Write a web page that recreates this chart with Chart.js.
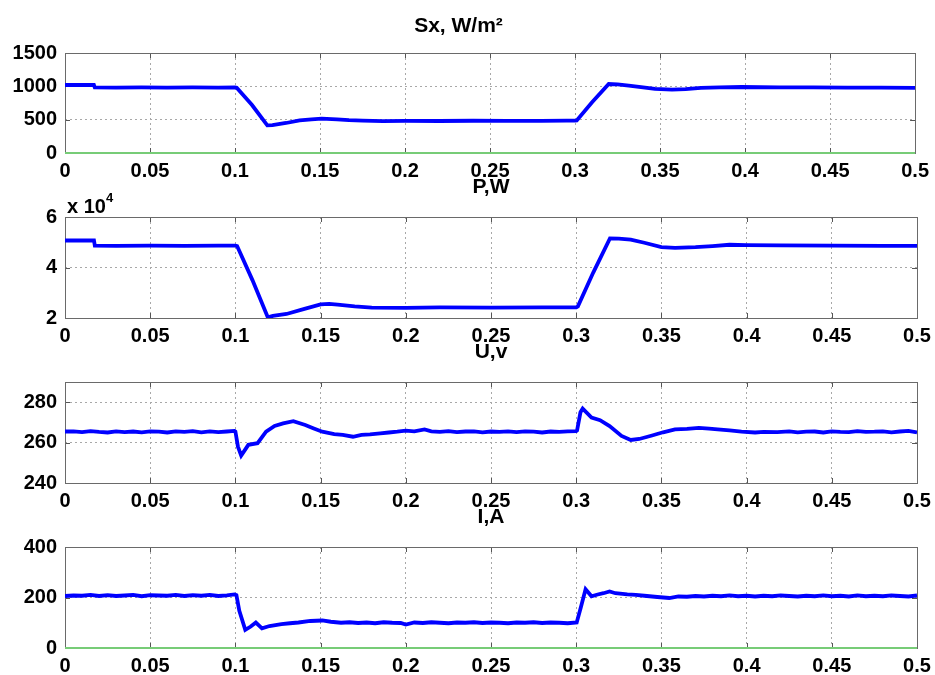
<!DOCTYPE html>
<html>
<head>
<meta charset="utf-8">
<script src="https://cdn.jsdelivr.net/npm/chart.js@4.4.1/dist/chart.umd.min.js"></script>
<style>
  html, body { margin: 0; padding: 0; background: #fff; width: 935px; height: 675px; overflow: hidden; position: relative; }
  canvas { position: absolute; left: 0; }
  #p-exp { position: absolute; left: 67px; top: 189px; font: bold 20px "Liberation Sans", Arial, sans-serif; color: #000; line-height: 24px; }
  #p-exp sup { font-size: 13px; position: relative; top: -3px; }
</style>
</head>
<body>
<canvas id="c1" width="935" height="179" style="top:0px"></canvas>
<canvas id="c2" width="982" height="180" style="top:164px"></canvas>
<canvas id="c3" width="982" height="180" style="top:329px"></canvas>
<canvas id="c4" width="982" height="180" style="top:494px"></canvas>
<div id="p-exp">x 10<sup>4</sup></div>
<script>
// ---------- data (time in s, value) ----------
const xTicks = [0, 0.05, 0.1, 0.15, 0.2, 0.25, 0.3, 0.35, 0.4, 0.45, 0.5];

const titles = ["Sx, W/m\u00B2", "P,W", "U,v", "I,A"];

const sxTicks = [0, 500, 1000, 1500];
const pTicks = [20000, 40000, 60000];
const uTicks = [240, 260, 280];
const iTicks = [0, 200, 400];

// Irradiance Sx, W/m^2
const sxData = [[0,1020],[0.017,1020],[0.0175,985],[0.03,982],[0.045,985],[0.06,980],[0.075,984],[0.09,982],[0.1,985],[0.101,980],
  [0.11,720],[0.119,415],[0.122,418],[0.13,450],[0.138,490],[0.145,505],[0.151,515],[0.16,505],[0.167,492],[0.175,485],
  [0.187,478],[0.2,482],[0.22,480],[0.24,484],[0.26,482],[0.28,483],[0.295,485],[0.3,486],[0.301,488],[0.31,760],
  [0.3198,1035],[0.325,1030],[0.3316,1012],[0.34,985],[0.347,962],[0.357,950],[0.365,958],[0.374,977],[0.385,985],[0.398,990],
  [0.42,985],[0.44,983],[0.46,980],[0.48,982],[0.5,978]];

// Power P, W
const pData = [[0,50700],[0.017,50700],[0.0175,48700],[0.03,48600],[0.05,48700],[0.07,48600],[0.09,48700],[0.1,48700],[0.101,48500],
  [0.11,35000],[0.119,20300],[0.122,20800],[0.13,21600],[0.14,23500],[0.15,25400],[0.155,25600],[0.16,25300],[0.17,24600],
  [0.18,24100],[0.2,24000],[0.22,24200],[0.25,24100],[0.28,24200],[0.3,24200],[0.301,24600],[0.31,38000],[0.3198,51500],
  [0.325,51400],[0.332,51000],[0.34,49800],[0.35,48100],[0.358,47800],[0.37,48100],[0.38,48500],[0.39,49000],[0.4,48900],
  [0.42,48800],[0.45,48700],[0.48,48600],[0.5,48600]];

// Voltage U, V
const uData = [[0,265.5],[0.005,265.6],[0.01,265.2],[0.015,265.7],[0.02,265.3],[0.025,265.0],[0.03,265.6],[0.035,265.2],
  [0.04,265.5],[0.045,265.1],[0.05,265.6],[0.055,265.4],[0.06,265.0],[0.065,265.6],[0.07,265.3],[0.075,265.7],[0.08,265.1],
  [0.085,265.6],[0.09,265.2],[0.095,265.5],[0.0995,265.8],[0.1,265.5],[0.1015,258.0],[0.1034,253.6],[0.1076,258.9],[0.113,259.7],
  [0.118,265.4],[0.123,268.2],[0.128,269.5],[0.134,270.6],[0.141,268.7],[0.146,267.0],[0.151,265.4],[0.158,264.2],[0.163,263.8],
  [0.169,262.9],[0.174,263.8],[0.179,264.1],[0.185,264.6],[0.19,265.0],[0.195,265.4],[0.2,265.9],[0.205,265.6],[0.211,266.5],
  [0.215,265.6],[0.22,265.3],[0.225,265.7],[0.23,265.2],[0.235,265.5],[0.24,265.6],[0.245,265.1],[0.25,265.5],[0.255,265.3],
  [0.26,265.6],[0.265,265.2],[0.27,265.6],[0.275,265.4],[0.28,265.0],[0.285,265.5],[0.29,265.3],[0.295,265.6],[0.3,265.7],
  [0.3005,266.0],[0.3025,275.0],[0.3038,276.8],[0.309,272.4],[0.314,271.1],[0.3196,268.2],[0.3266,263.3],[0.332,261.3],
  [0.337,261.8],[0.344,263.4],[0.351,265.1],[0.358,266.5],[0.365,266.8],[0.372,267.3],[0.378,266.9],[0.383,266.5],[0.39,266.0],
  [0.397,265.4],[0.405,265.0],[0.41,265.3],[0.418,265.2],[0.425,265.6],[0.43,265.1],[0.435,265.4],[0.44,265.5],[0.445,265.0],
  [0.45,265.6],[0.455,265.3],[0.46,265.2],[0.465,265.7],[0.47,265.3],[0.475,265.4],[0.48,265.6],[0.485,265.1],[0.49,265.5],
  [0.495,265.8],[0.5,265.0]];

// Current I, A
const iData = [[0,206],[0.005,208],[0.01,207],[0.015,210],[0.02,206],[0.025,209],[0.03,206],[0.035,208],[0.04,210],[0.045,205],
  [0.05,209],[0.055,208],[0.06,207],[0.065,210],[0.07,206],[0.075,209],[0.08,207],[0.085,210],[0.09,206],[0.095,208],[0.0995,212],
  [0.1006,209],[0.1023,147],[0.1058,72],[0.109,85],[0.112,101],[0.1156,78],[0.12,87],[0.127,95],[0.132,98],[0.137,101],[0.144,107],
  [0.151,109],[0.156,104],[0.162,100],[0.167,102],[0.172,99],[0.177,101],[0.182,98],[0.187,102],[0.192,100],[0.197,99],[0.2,93],
  [0.205,101],[0.21,99],[0.215,102],[0.22,100],[0.225,98],[0.23,101],[0.235,100],[0.24,102],[0.245,99],[0.25,101],[0.255,100],
  [0.26,98],[0.265,101],[0.27,100],[0.275,102],[0.28,99],[0.285,101],[0.29,100],[0.295,98],[0.3003,101],[0.3027,160],[0.3055,233],
  [0.309,205],[0.3126,212],[0.316,217],[0.3196,224],[0.323,217],[0.33,212],[0.335,210],[0.34,207],[0.3476,202],[0.3546,198],
  [0.36,204],[0.365,203],[0.37,206],[0.375,204],[0.38,207],[0.385,205],[0.39,208],[0.395,205],[0.4,207],[0.405,204],[0.41,207],
  [0.415,205],[0.42,208],[0.425,206],[0.43,204],[0.435,207],[0.44,205],[0.445,208],[0.45,205],[0.455,207],[0.46,204],[0.465,208],
  [0.47,205],[0.475,207],[0.48,205],[0.485,208],[0.49,206],[0.495,204],[0.5,208]];

// zero reference signal (green) shown in panels 1 and 4
const zeroData = [[0,0],[0.5,0]];

// ---------- drawing ----------
const FONT = '"Liberation Sans", Arial, sans-serif';
const toXY = arr => arr.map(p => ({x: p[0], y: p[1]}));

const boxPlugin = {
  id: 'matlabBox',
  beforeDatasetsDraw(chart) {
    const {ctx, chartArea: a, scales} = chart;
    ctx.save();
    ctx.strokeStyle = '#555';
    ctx.lineWidth = 1;
    const tl = 5;
    ctx.beginPath();
    scales.x.ticks.forEach(t => {
      const px = Math.round(scales.x.getPixelForValue(t.value)) + 0.5;
      ctx.moveTo(px, a.bottom); ctx.lineTo(px, a.bottom - tl);
      ctx.moveTo(px, a.top); ctx.lineTo(px, a.top + tl);
    });
    scales.y.ticks.forEach(t => {
      const py = Math.round(scales.y.getPixelForValue(t.value)) + 0.5;
      ctx.moveTo(a.left, py); ctx.lineTo(a.left + tl, py);
      ctx.moveTo(a.right, py); ctx.lineTo(a.right - tl, py);
    });
    ctx.stroke();
    ctx.strokeStyle = '#6a6a6a';
    ctx.strokeRect(Math.round(a.left) + 0.5, Math.round(a.top) + 0.5,
                   Math.round(a.right - a.left), Math.round(a.bottom - a.top));
    ctx.restore();
  }
};

// centerTitleOnPlot: true -> title centred over the plot box (uses an empty right spacer axis)
function makeChart(id, title, data, yMin, yMax, yTicks, fmt, showZero, centerTitleOnPlot, titleTop) {
  const datasets = [{
    data: toXY(data),
    borderColor: '#0000ff',
    borderWidth: 3.8,
    pointRadius: 0,
    tension: 0,
    order: 2
  }];
  if (showZero) {
    datasets.push({
      data: toXY(zeroData),
      borderColor: '#77cc77',
      borderWidth: 2,
      pointRadius: 0,
      clip: 4,
      order: 1
    });
  }
  const scales = {
    x: {
      type: 'linear',
      min: 0, max: 0.5,
      afterBuildTicks: s => { s.ticks = xTicks.map(v => ({value: v})); },
      afterFit: s => { s.height = 26; },
      grid: {
        drawTicks: false,
        color: c => (c.tick && (c.tick.value === 0 || c.tick.value === 0.5)) ? 'rgba(0,0,0,0)' : '#a8a8a8',
        lineWidth: 1
      },
      border: { display: false, dash: [2, 3] },
      ticks: {
        autoSkip: false, maxRotation: 0, padding: 6, color: '#000',
        font: { family: FONT, size: 20, weight: 'bold' },
        callback: v => String(+v.toFixed(2))
      }
    },
    y: {
      type: 'linear',
      position: 'left',
      min: yMin, max: yMax,
      afterBuildTicks: s => { s.ticks = yTicks.map(v => ({value: v})); },
      afterFit: s => { s.width = 65; },
      grid: {
        drawTicks: false,
        color: c => (c.tick && (c.tick.value === yMin || c.tick.value === yMax)) ? 'rgba(0,0,0,0)' : '#a8a8a8',
        lineWidth: 1
      },
      border: { display: false, dash: [2, 3] },
      ticks: {
        padding: 8, color: '#000',
        font: { family: FONT, size: 20, weight: 'bold' },
        callback: fmt
      }
    }
  };
  if (centerTitleOnPlot) {
    scales.ySpacer = {
      type: 'linear', position: 'right', min: 0, max: 1,
      grid: { display: false, drawTicks: false },
      border: { display: false },
      ticks: { display: false },
      afterFit: s => { s.width = 65; }
    };
  }
  return new Chart(document.getElementById(id), {
    type: 'line',
    data: { datasets },
    plugins: [boxPlugin],
    options: {
      responsive: false,
      animation: false,
      devicePixelRatio: 1,
      layout: { padding: { left: 0, right: centerTitleOnPlot ? 0 : 18, top: 0, bottom: 0 } },
      plugins: {
        legend: { display: false },
        tooltip: { enabled: false },
        title: {
          display: true,
          text: title,
          color: '#000',
          font: { family: FONT, size: 21, weight: 'bold', lineHeight: 1 },
          padding: { top: titleTop, bottom: 32 - titleTop }
        }
      },
      scales
    }
  });
}

Chart.defaults.scale.border.dash = [2, 3];

makeChart('c1', titles[0], sxData, 0, 1500, sxTicks, v => String(v), true, false, 16);
makeChart('c2', titles[1], pData, 20000, 60000, pTicks, v => String(v / 10000), false, true, 13);
makeChart('c3', titles[2], uData, 240, 290, uTicks, v => String(v), false, true, 13);
makeChart('c4', titles[3], iData, 0, 400, iTicks, v => String(v), true, true, 13);
</script>
</body>
</html>
